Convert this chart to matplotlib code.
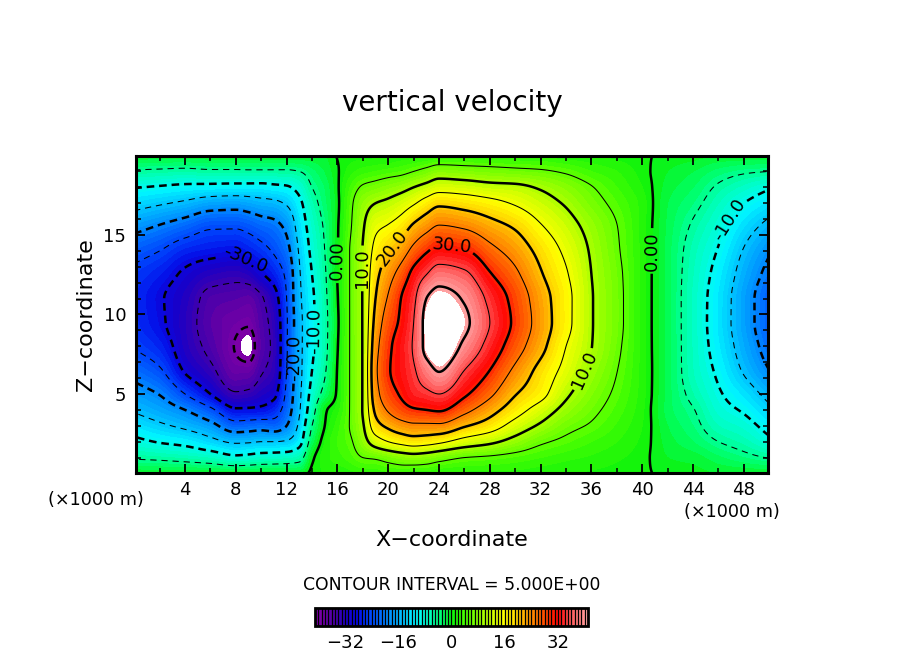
import numpy as np
import matplotlib
matplotlib.use("Agg")
import matplotlib.pyplot as plt
from matplotlib.colors import LinearSegmentedColormap, BoundaryNorm
import matplotlib.colorbar as mcb

plt.rcParams['font.family'] = ['DejaVu Sans']
plt.rcParams['lines.scale_dashes'] = False

# ---------------- data ----------------
x_nodes = [0, 2, 4, 6, 8, 9, 10, 11, 12, 13, 14, 15, 16, 17, 18, 19, 20, 21, 22,
           23, 24, 26, 28, 30, 32, 34, 36, 38, 40, 42, 44, 46, 48, 50]
z_nodes = [0, 1, 2, 3, 4, 5, 6.5, 8, 9.5, 11, 12.5, 14, 15.5, 17, 18, 19, 20]

# vertical velocity columns (one list per x node, values at z_nodes)
w_x00 = [-1, -5.4, -8.9, -12.3, -15.5, -18, -21.8, -25.2, -26.6, -26.9, -26, -23.2, -18.6, -13.3, -9.8, -5.4, -1]
w_x02 = [-1, -5.8, -10.3, -14.2, -17.5, -20.2, -24.5, -27.5, -29.2, -29.5, -28, -25, -20.5, -14.5, -10.4, -5.7, -1]
w_x04 = [-1, -6.4, -11.3, -16, -20, -25, -30.5, -32.5, -33, -32.5, -30.8, -27.5, -22.5, -15.8, -11, -6, -1]
w_x06 = [-1, -7.3, -13.5, -18.5, -24, -30, -34, -36.2, -37, -36.2, -33, -28.5, -24.5, -17.5, -11.3, -5.6, -1]
w_x08 = [-1, -9, -15.7, -22.9, -29.4, -34.5, -38.5, -40.3, -39, -37, -33.8, -29, -24.6, -17.9, -11.5, -5.6, -1]
w_x09 = [-1, -8.6, -15.5, -22.5, -29.3, -34, -38.5, -42, -39.5, -37.5, -33, -28, -23.8, -17.3, -11.5, -5.5, -1]
w_x10 = [-1, -8, -15, -22, -29, -32.5, -35.5, -37, -36.5, -35.5, -30.5, -26.5, -22.5, -16.5, -11.5, -5.5, -1]
w_x11 = [-1, -7.8, -15, -22.5, -27.5, -31, -33.5, -34, -33.5, -32, -28, -24.5, -21.5, -16, -11, -5.5, -1]
w_x12 = [-1, -7.5, -14.5, -20, -22.5, -24, -25, -25.5, -25.5, -25, -24, -21.5, -19, -14.5, -10.5, -5.5, -1]
w_x13 = [-1, -6.5, -11.5, -14, -15.5, -16, -16.5, -16.5, -16.5, -16, -15.5, -14.5, -13, -11, -8.5, -5, -1]
w_x14 = [0.5, -0.5, -3, -5, -7, -8.5, -10, -10.8, -11, -10.8, -10, -9, -8, -6.5, -5, -3.5, -1]
w_x15 = [1, 1.5, 1, 0, -0.5, -3.5, -5.5, -6.2, -6.3, -6, -5.5, -5, -4.5, -3.5, -3, -2, -1]
w_x16 = [1, 2.5, 3, 2.5, 1.5, 0.5, 0.2, -0.2, -0.5, -0.2, 0.1, -0.2, -0.3, -0.5, -0.3, -0.2, 0.1]
w_x17 = [1.5, 3.5, 4.5, 5.2, 5.2, 5.2, 5.2, 5.2, 5.2, 5.2, 5.2, 5.2, 4.5, 4, 3, 1.5, 0.5]
w_x18 = [2, 5, 8, 9.5, 10.3, 10.3, 10.3, 10.3, 10.3, 10.3, 10.3, 10.2, 9.5, 8, 5.5, 2.5, 0.5]
w_x19 = [2, 5.5, 12.5, 18, 21, 23, 24, 23, 21.5, 20, 18.5, 16.5, 14, 10, 6.5, 3, 0.5]
w_x20 = [2.5, 6.5, 15, 21, 25.5, 28, 29.5, 29, 27.5, 25.5, 23, 19.8, 15.5, 11, 7.5, 3.5, 0.5]
w_x21 = [2.5, 7.5, 16.5, 23, 28, 30.5, 32, 32, 30.8, 30, 27, 22.5, 17.5, 12.5, 8.5, 4, 1]
w_x22 = [2, 8, 17.5, 24, 29.5, 33, 34.5, 35.5, 35, 34, 31.5, 26.5, 21, 14.5, 10, 5, 1]
w_x23 = [2, 7.5, 17, 24, 30, 34, 38, 41.3, 41.5, 40, 35, 29.5, 23.5, 17, 11.5, 6.2, 1.2]
w_x24 = [1.5, 6.5, 16, 24, 30.5, 35, 40.3, 43.5, 44, 42, 37.5, 31.5, 25.5, 19, 13, 7.5, 1.5]
w_x26 = [1.5, 5, 13, 20.5, 26.5, 30.8, 35, 39, 41, 39.5, 36, 30.5, 24.5, 18, 12.5, 7, 1.5]
w_x28 = [1.5, 4.5, 11, 17.5, 22, 26, 30, 33.2, 35, 33.8, 30.5, 26.5, 22, 16.5, 11.5, 6.5, 1.5]
w_x30 = [1.5, 3.8, 8.3, 13, 17.2, 20.3, 24, 27.3, 29, 28.3, 26, 23, 19.5, 14.5, 11, 6, 1.5]
w_x32 = [1.2, 3, 5.6, 9.3, 12.8, 16.5, 18.5, 21.5, 22.8, 22.3, 20.5, 18.5, 15.5, 12, 9.5, 5.5, 1.5]
w_x34 = [1, 2.3, 4.2, 6.2, 8.6, 10.8, 13.5, 15, 16.5, 16.5, 15.5, 14, 12, 9.5, 7.5, 4.5, 1]
w_x36 = [0.8, 1.8, 3, 4.6, 5.9, 7.1, 8.8, 10.1, 10.3, 10.3, 10, 9.5, 8.5, 6.5, 5.2, 3, 1]
w_x38 = [0.5, 1.2, 2, 2.8, 3.6, 4.3, 5.1, 5.8, 6.2, 6.2, 6, 5.5, 5.1, 4, 3, 2, 0.5]
w_x40 = [0.2, 0.4, 0.7, 1, 1.2, 1.4, 1.5, 1.5, 1.5, 1.5, 1.5, 1.5, 1.5, 1.5, 1, 0.5, 0.2]
w_x42 = [-0.3, -1, -1.5, -2, -2.5, -2.5, -2.5, -2.5, -2.5, -2.5, -2.5, -2.5, -2.3, -2, -1.5, -1, -0.3]
w_x44 = [-0.5, -1.5, -3, -4, -4.8, -6, -7, -7.2, -7.3, -7.3, -7, -6.5, -5.5, -4, -3, -2, -0.5]
w_x46 = [-1, -2.8, -5, -7, -8.5, -9.5, -10.8, -11.8, -12.3, -12.2, -11.5, -10.3, -8.8, -7, -5.5, -3.5, -1]
w_x48 = [-1, -4, -6.5, -8.5, -10.5, -12.5, -15.5, -17, -17.8, -17.8, -16.8, -15.3, -13, -10, -7.5, -4.5, -1]
w_x50 = [-1, -5.2, -9, -11.5, -14, -16.5, -20, -22, -23, -23, -21.5, -19.5, -16.5, -12.5, -9.5, -5, -1]

columns = [w_x00, w_x02, w_x04, w_x06, w_x08, w_x09, w_x10, w_x11, w_x12, w_x13,
           w_x14, w_x15, w_x16, w_x17, w_x18, w_x19, w_x20, w_x21, w_x22, w_x23,
           w_x24, w_x26, w_x28, w_x30, w_x32, w_x34, w_x36, w_x38, w_x40, w_x42,
           w_x44, w_x46, w_x48, w_x50]

cbar_ticks = [-32, -16, 0, 16, 32]
label_spots = [(8.5, 13.1), (12.5, 7.3), (14.2, 9.0), (16.3, 13.4), (18.0, 12.9),
               (20.3, 14.2), (25.0, 14.4), (35.2, 6.6), (40.8, 14.0), (47.2, 15.8)]

# colour scale anchor values and colours
cmap_vals = [-41, -38, -35, -32, -29, -26, -22, -18, -14, -11, -7, -3, 0,
             4, 8, 12, 16, 20, 24, 28, 32, 36, 41]
cmap_cols = [(0.50, 0.0, 0.65), (0.38, 0.0, 0.65), (0.25, 0.0, 0.68), (0.10, 0.0, 0.78),
             (0.02, 0.04, 0.90), (0.0, 0.22, 0.98), (0.0, 0.42, 1.0), (0.0, 0.62, 1.0),
             (0.0, 0.82, 1.0), (0.0, 0.97, 1.0), (0.0, 1.0, 0.75), (0.0, 1.0, 0.40),
             (0.05, 0.95, 0.05),
             (0.30, 1.0, 0.0), (0.55, 1.0, 0.0), (0.80, 1.0, 0.0), (1.0, 1.0, 0.0),
             (1.0, 0.80, 0.0), (1.0, 0.55, 0.0), (1.0, 0.30, 0.0), (1.0, 0.02, 0.02),
             (1.0, 0.35, 0.35), (1.0, 0.65, 0.65)]


# ---------------- smooth rendering of the grid (monotone cubic) ----------------
def pchip(xk, yk, xq):
    xk = np.asarray(xk, float)
    yk = np.asarray(yk, float)
    h = np.diff(xk)
    hh = h.reshape(-1, 1)
    d = np.diff(yk, axis=0) / hh
    m = np.zeros_like(yk)
    w1 = 2 * hh[1:] + hh[:-1]
    w2 = hh[1:] + 2 * hh[:-1]
    d0, d1 = d[:-1], d[1:]
    same = (d0 * d1) > 0
    with np.errstate(divide='ignore', invalid='ignore'):
        mi = (w1 + w2) / (w1 / d0 + w2 / d1)
    m[1:-1] = np.where(same, mi, 0.0)
    m[0] = d[0]
    m[-1] = d[-1]
    idx = np.clip(np.searchsorted(xk, xq) - 1, 0, len(xk) - 2)
    hi = h[idx].reshape(-1, 1)
    t = ((xq - xk[idx]) / h[idx]).reshape(-1, 1)
    h00 = 2 * t**3 - 3 * t**2 + 1
    h10 = t**3 - 2 * t**2 + t
    h01 = -2 * t**3 + 3 * t**2
    h11 = t**3 - t**2
    return h00 * yk[idx] + h10 * hi * m[idx] + h01 * yk[idx + 1] + h11 * hi * m[idx + 1]


W = np.array(columns, float)            # (nx, nz)
xf = np.linspace(0, 50, 501)
zf = np.linspace(0, 20, 241)
Wx = pchip(x_nodes, W, xf)              # (NX, nz)
F = pchip(z_nodes, Wx.T, zf)            # (NZ, NX)
XF, ZF = np.meshgrid(xf, zf)

# ---------------- figure ----------------
W_PX, H_PX = 904, 654
fig = plt.figure(figsize=(W_PX / 100, H_PX / 100), dpi=100)
ax = fig.add_axes([136 / W_PX, (H_PX - 473) / H_PX, 632 / W_PX, 317 / H_PX])

pos = [(v - cmap_vals[0]) / (cmap_vals[-1] - cmap_vals[0]) for v in cmap_vals]
cmap = LinearSegmentedColormap.from_list('wgrads', list(zip(pos, cmap_cols)), N=256)
cmap.set_over('white')
cmap.set_under('white')

fill_levels = np.arange(-41, 42, 1)
cf = ax.contourf(XF, ZF, F, levels=fill_levels, cmap=cmap, extend='both')

thick_levels = np.arange(-40, 45, 10)
thin_levels = np.arange(-35, 40, 10)
thick_ls = [(0, (5.5, 3.5)) if v < 0 else 'solid' for v in thick_levels]
thin_ls = [(0, (4.5, 3.5)) if v < 0 else 'solid' for v in thin_levels]
cs_thin = ax.contour(XF, ZF, F, levels=thin_levels, colors='black',
                     linewidths=0.75, linestyles=thin_ls)
cs_thick = ax.contour(XF, ZF, F, levels=thick_levels, colors='black',
                      linewidths=1.8, linestyles=thick_ls)


def fmt(v):
    if abs(v) < 1e-9:
        return "0.00"
    return f"{v:.1f}"


cs_thick.clabel(manual=label_spots, fmt=fmt, fontsize=13, inline=True,
                inline_spacing=3, colors='black')

ax.set_xlim(0.14, 49.9)
ax.set_ylim(0.03, 19.97)
ax.set_xticks(np.arange(4, 49, 4))
ax.set_xticks(np.arange(2, 50, 2), minor=True)
ax.set_yticks([5, 10, 15])
ax.set_yticks(np.arange(1, 20, 1), minor=True)
ax.tick_params(which='both', direction='in', top=True, right=True, labelsize=13)
ax.tick_params(which='major', length=6.5, width=1.3)
ax.tick_params(which='minor', length=3.5, width=1.1)
ax.tick_params(axis='x', pad=6)
ax.tick_params(axis='y', pad=7)
for s in ax.spines.values():
    s.set_linewidth(2.2)


def ftext(px, py, s, **kw):
    fig.text(px / W_PX, 1 - py / H_PX, s, ha='center', va='center', **kw)


ftext(452, 103, "vertical velocity", fontsize=20)
ftext(452, 540, "X\u2212coordinate", fontsize=16)
ftext(86, 315, "Z\u2212coordinate", fontsize=16, rotation=90)
ftext(96, 500, "(\u00d71000 m)", fontsize=12.7)
ftext(732, 512, "(\u00d71000 m)", fontsize=12.7)
ftext(452, 585, "CONTOUR INTERVAL = 5.000E+00", fontsize=12.4)

cax = fig.add_axes([315 / W_PX, (H_PX - 626) / H_PX, 273 / W_PX, 18 / H_PX])
norm = BoundaryNorm(fill_levels, cmap.N)
cb = mcb.ColorbarBase(cax, cmap=cmap, norm=norm, boundaries=fill_levels,
                      orientation='horizontal', drawedges=True, ticks=cbar_ticks,
                      extend='neither')
cb.minorticks_off()
cb.dividers.set_linewidth(0.9)
cb.dividers.set_color('black')
cb.outline.set_linewidth(2.0)
cax.tick_params(which='both', length=0, labelsize=13, pad=6)
cax.set_xticklabels([f"\u2212{abs(t)}" if t < 0 else str(t) for t in cbar_ticks])

fig.savefig("out.png", dpi=100)
